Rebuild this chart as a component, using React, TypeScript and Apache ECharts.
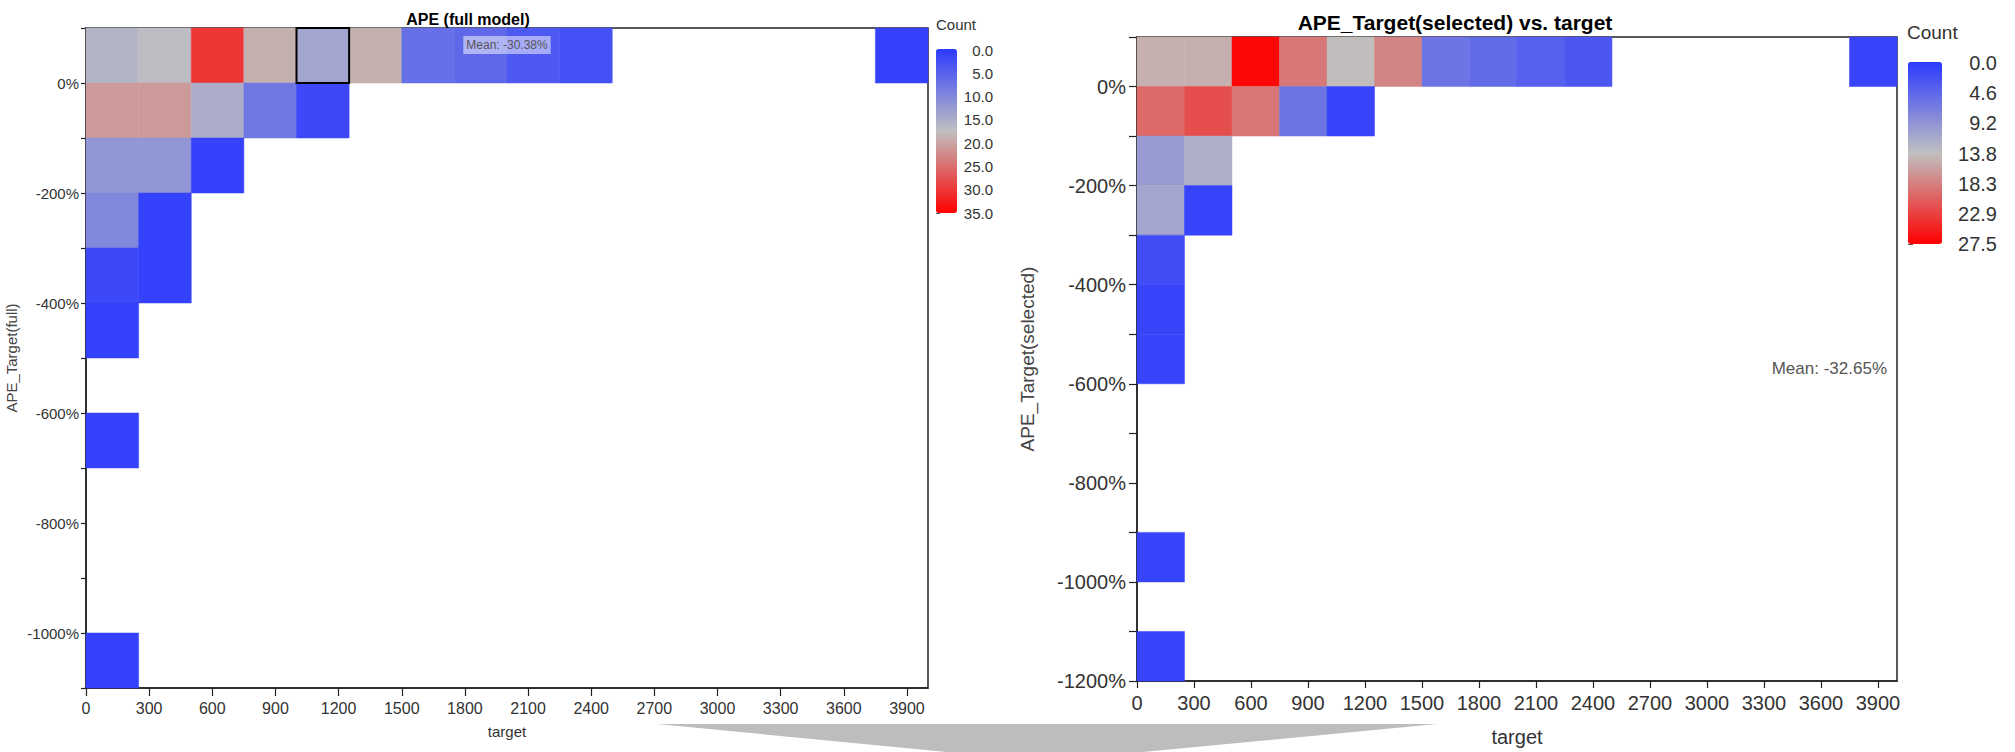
import React, { useEffect, useRef } from 'react';
import * as echarts from 'echarts';

const X_BIN = 250;
const Y_BIN = 100;

// [target bin start, APE bin start (%), count]
const fullCells: number[][] = [
  [0, 0, 16], [250, 0, 17], [500, 0, 30], [750, 0, 19], [1000, 0, 14], [1250, 0, 19],
  [1500, 0, 7], [1750, 0, 6], [2000, 0, 4], [2250, 0, 3], [3750, 0, 1],
  [0, -100, 21], [250, -100, 21], [500, -100, 15], [750, -100, 8], [1000, -100, 2],
  [0, -200, 12], [250, -200, 12], [500, -200, 1],
  [0, -300, 10], [250, -300, 1],
  [0, -400, 2], [250, -400, 1],
  [0, -500, 1],
  [0, -700, 1],
  [0, -1100, 1],
];
const fullSelectedCell = [1000, 0];

const selectedCells: number[][] = [
  [0, 0, 15], [250, 0, 15], [500, 0, 27], [750, 0, 19], [1000, 0, 14], [1250, 0, 18],
  [1500, 0, 6], [1750, 0, 5], [2000, 0, 4], [2250, 0, 3], [3750, 0, 1],
  [0, -100, 20], [250, -100, 22], [500, -100, 19], [750, -100, 6], [1000, -100, 1],
  [0, -200, 10], [250, -200, 12],
  [0, -300, 11], [250, -300, 1],
  [0, -400, 2],
  [0, -500, 1],
  [0, -600, 1],
  [0, -1000, 1],
  [0, -1200, 1],
];

const fullLegendLabels = ['0.0', '5.0', '10.0', '15.0', '20.0', '25.0', '30.0', '35.0'];
const selLegendLabels = ['0.0', '4.6', '9.2', '13.8', '18.3', '22.9', '27.5'];
const fullMax = 35;
const selMax = 27.5;
const fullMean = 'Mean: -30.38%';
const selMean = 'Mean: -32.65%';
const fullTitle = 'APE (full model)';
const selTitle = 'APE_Target(selected) vs. target';

const COLORS = ['#2c3aff', '#c0c0c0', '#ff0000'];
const NARROW = '"Liberation Sans Narrow", "Liberation Sans", Arial, sans-serif';
const SANS = '"Liberation Sans", Arial, sans-serif';

function makeRenderItem(sel: number[] | null) {
  return (params: any, api: any) => {
    const x0 = api.value(0);
    const y0 = api.value(1);
    const p1 = api.coord([x0, y0 + Y_BIN]);
    const p2 = api.coord([x0 + X_BIN, y0]);
    const isSel = sel && sel[0] === x0 && sel[1] === y0;
    const color = api.visual('color');
    return {
      type: 'rect',
      z2: isSel ? 10 : 0,
      shape: { x: p1[0], y: p1[1], width: p2[0] - p1[0], height: p2[1] - p1[1] },
      style: {
        fill: color,
        stroke: isSel ? '#000' : color,
        lineWidth: isSel ? 2 : 0.5,
      },
    };
  };
}

function pctFormatter(v: number) {
  return Math.round(v) % 200 === 0 ? `${Math.round(v)}%` : '';
}

export default function App() {
  const ref = useRef<HTMLDivElement>(null);
  useEffect(() => {
    if (!ref.current) return;
    const chart = echarts.init(ref.current, null, { renderer: 'svg' });
    const option: any = {
      animation: false,
      backgroundColor: '#fff',
      grid: [
        { left: 86, top: 28, width: 842, height: 660, show: true, borderColor: '#222', borderWidth: 1.5 },
        { left: 1137, top: 37, width: 760, height: 651, show: true, borderColor: '#222', borderWidth: 1.5 },
        { left: 936, top: 50, width: 21, height: 163 },
        { left: 1908, top: 63, width: 34, height: 181 },
      ],
      xAxis: [
        {
          gridIndex: 0, type: 'value', min: 0, max: 4000, interval: 300,
          axisLine: { show: true, onZero: false, lineStyle: { color: '#222', width: 1.5 } },
          axisTick: { show: true, length: 8, lineStyle: { color: '#222', width: 1.2 } },
          axisLabel: { fontSize: 16, fontFamily: NARROW, color: '#333', margin: 12, showMaxLabel: false,
            formatter: (v: number) => (v >= 4000 ? '' : String(v)) },
          splitLine: { show: false },
          name: 'target', nameLocation: 'middle', nameGap: 36,
          nameTextStyle: { fontSize: 15, fontFamily: NARROW, color: '#333' },
        },
        {
          gridIndex: 1, type: 'value', min: 0, max: 4000, interval: 300,
          axisLine: { show: true, onZero: false, lineStyle: { color: '#222', width: 1.5 } },
          axisTick: { show: true, length: 7, lineStyle: { color: '#222', width: 1.2 } },
          axisLabel: { fontSize: 20, fontFamily: SANS, color: '#333', margin: 12, showMaxLabel: false,
            formatter: (v: number) => (v >= 4000 ? '' : String(v)) },
          splitLine: { show: false },
          name: 'target', nameLocation: 'middle', nameGap: 46,
          nameTextStyle: { fontSize: 20, fontFamily: SANS, color: '#333' },
        },
        { gridIndex: 2, type: 'value', show: false },
        { gridIndex: 3, type: 'value', show: false },
      ],
      yAxis: [
        {
          gridIndex: 0, type: 'value', min: -1100, max: 100, interval: 100,
          axisLine: { show: true, onZero: false, lineStyle: { color: '#222', width: 1.5 } },
          axisTick: { show: true, length: 5, lineStyle: { color: '#222', width: 1.2 } },
          axisLabel: { fontSize: 15, fontFamily: NARROW, color: '#333', margin: 7, formatter: pctFormatter },
          splitLine: { show: false },
          name: 'APE_Target(full)', nameLocation: 'middle', nameRotate: 90, nameGap: 67,
          nameTextStyle: { fontSize: 15, fontFamily: SANS, color: '#444' },
        },
        {
          gridIndex: 1, type: 'value', min: -1200, max: 100, interval: 100,
          axisLine: { show: true, onZero: false, lineStyle: { color: '#222', width: 1.5 } },
          axisTick: { show: true, length: 8, lineStyle: { color: '#222', width: 1.2 } },
          axisLabel: { fontSize: 20, fontFamily: SANS, color: '#333', margin: 11, formatter: pctFormatter },
          splitLine: { show: false },
          name: 'APE_Target(selected)', nameLocation: 'middle', nameRotate: 90, nameGap: 100,
          nameTextStyle: { fontSize: 19, fontFamily: SANS, color: '#444' },
        },
        {
          gridIndex: 2, type: 'value', min: 0, max: fullLegendLabels.length - 1, interval: 1, inverse: true,
          position: 'right',
          axisLine: { show: false },
          axisTick: { show: true, length: 4, lineStyle: { color: '#555' } },
          axisLabel: { fontSize: 15, fontFamily: NARROW, color: '#333', align: 'right', margin: 36,
            formatter: (v: number) => fullLegendLabels[Math.round(v)] ?? '' },
          splitLine: { show: false },
        },
        {
          gridIndex: 3, type: 'value', min: 0, max: selLegendLabels.length - 1, interval: 1, inverse: true,
          position: 'right',
          axisLine: { show: false },
          axisTick: { show: true, length: 5, lineStyle: { color: '#555' } },
          axisLabel: { fontSize: 20, fontFamily: SANS, color: '#333', align: 'right', margin: 55,
            formatter: (v: number) => selLegendLabels[Math.round(v)] ?? '' },
          splitLine: { show: false },
        },
      ],
      visualMap: [
        {
          type: 'continuous', seriesIndex: 0, dimension: 2, min: 0, max: fullMax,
          inverse: true, calculable: false, orient: 'vertical', left: 936, top: 49,
          itemWidth: 21, itemHeight: 164, padding: 0, inRange: { color: COLORS },
        },
        {
          type: 'continuous', seriesIndex: 1, dimension: 2, min: 0, max: selMax,
          inverse: true, calculable: false, orient: 'vertical', left: 1908, top: 62,
          itemWidth: 34, itemHeight: 182, padding: 0, inRange: { color: COLORS },
        },
      ],
      series: [
        {
          type: 'custom', xAxisIndex: 0, yAxisIndex: 0, data: fullCells,
          encode: { x: 0, y: 1 }, renderItem: makeRenderItem(fullSelectedCell),
        },
        {
          type: 'custom', xAxisIndex: 1, yAxisIndex: 1, data: selectedCells,
          encode: { x: 0, y: 1 }, renderItem: makeRenderItem(null),
        },
      ],
      graphic: [
        {
          type: 'text', x: 468, y: 19, z: 20,
          style: { text: fullTitle, fontSize: 16, fontWeight: 'bold', fontFamily: SANS, fill: '#000',
            align: 'center', verticalAlign: 'middle', textAlign: 'center', textVerticalAlign: 'middle' },
        },
        {
          type: 'text', x: 1455, y: 22, z: 20,
          style: { text: selTitle, fontSize: 21, fontWeight: 'bold', fontFamily: SANS, fill: '#000',
            align: 'center', verticalAlign: 'middle', textAlign: 'center', textVerticalAlign: 'middle' },
        },
        {
          type: 'text', x: 936, y: 24, z: 20,
          style: { text: 'Count', fontSize: 15, fontFamily: NARROW, fill: '#333',
            align: 'left', verticalAlign: 'middle', textAlign: 'left', textVerticalAlign: 'middle' },
        },
        {
          type: 'text', x: 1907, y: 32, z: 20,
          style: { text: 'Count', fontSize: 19, fontFamily: SANS, fill: '#333',
            align: 'left', verticalAlign: 'middle', textAlign: 'left', textVerticalAlign: 'middle' },
        },
        {
          type: 'text', x: 507, y: 45, z: 20,
          style: { text: fullMean, fontSize: 12, fontFamily: NARROW, fill: '#555',
            backgroundColor: 'rgba(255,255,255,0.5)', padding: [3, 3],
            align: 'center', verticalAlign: 'middle', textAlign: 'center', textVerticalAlign: 'middle' },
        },
        {
          type: 'text', x: 1887, y: 368, z: 20,
          style: { text: selMean, fontSize: 17, fontFamily: SANS, fill: '#555',
            align: 'right', verticalAlign: 'middle', textAlign: 'right', textVerticalAlign: 'middle' },
        },
        {
          type: 'polygon', z: 20,
          shape: { points: [[657, 724], [1437, 724], [1143, 752], [947, 752]] },
          style: { fill: '#bdbdbd' },
        },
      ],
    };
    chart.setOption(option);
    return () => chart.dispose();
  }, []);
  return (
    <div
      ref={ref}
      style={{ position: 'fixed', left: 0, top: 0, width: 2015, height: 752, background: '#fff' }}
    />
  );
}
